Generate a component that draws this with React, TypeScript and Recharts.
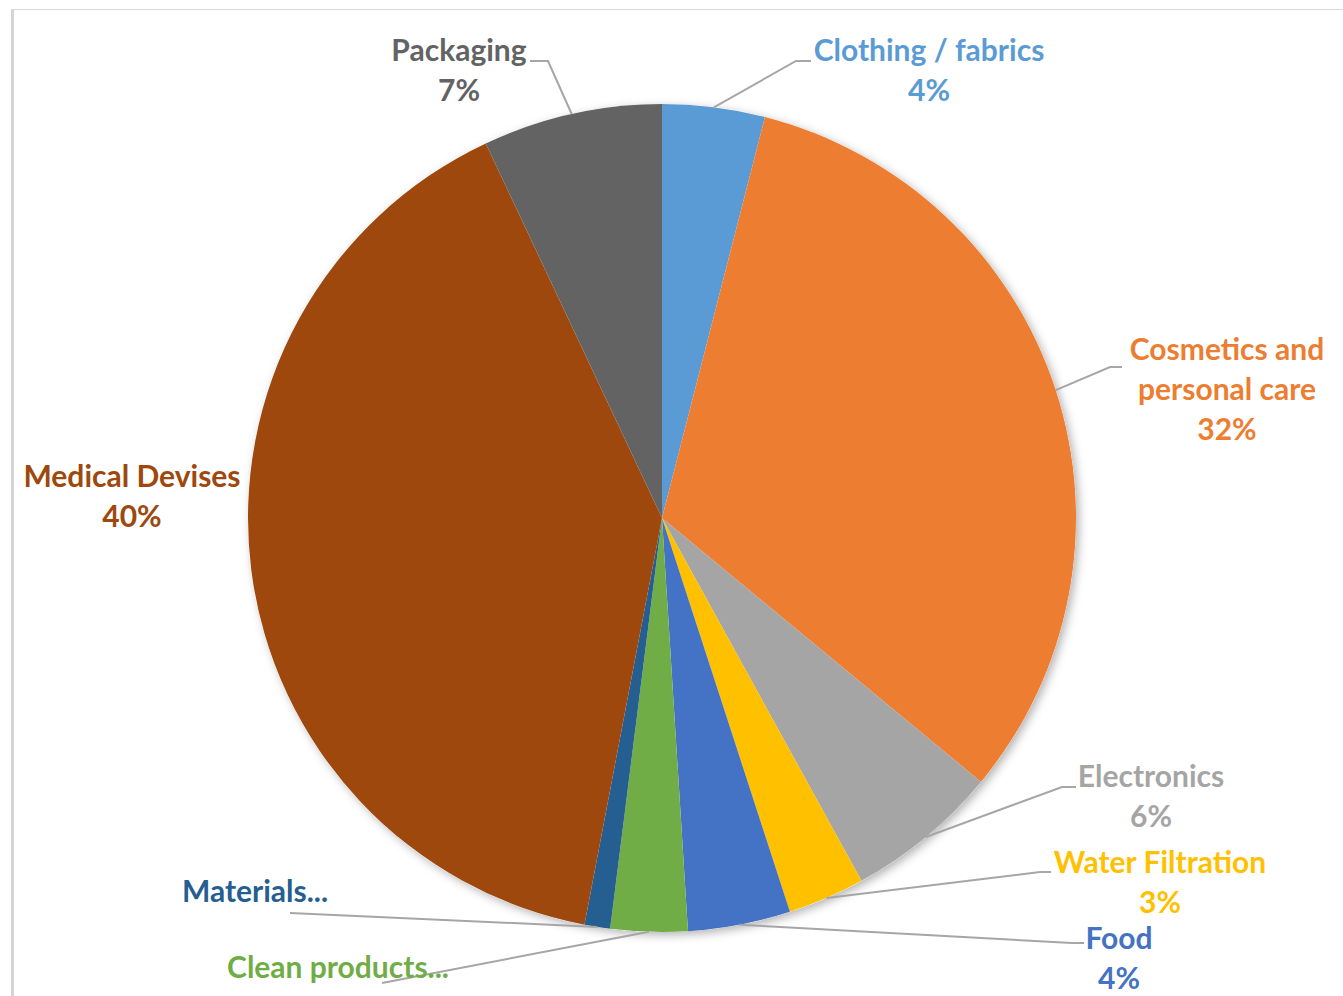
import { PieChart, Pie, Cell } from 'recharts';

const categories = [
  'Clothing / fabrics',
  'Cosmetics and personal care',
  'Electronics',
  'Water Filtration',
  'Food',
  'Clean products...',
  'Materials...',
  'Medical Devises',
  'Packaging',
];
const shares = [4, 32, 6, 3, 4, 3, 1, 40, 7];
const sliceColors = ['#5B9BD5', '#ED7D31', '#A5A5A5', '#FFC000', '#4472C4', '#70AD47', '#255E91', '#9E480E', '#636363'];
const labelText = [
  ['Clothing / fabrics'],
  ['Cosmetics and', 'personal care'],
  ['Electronics'],
  ['Water Filtration'],
  ['Food'],
  ['Clean products...'],
  ['Materials...'],
  ['Medical Devises'],
  ['Packaging'],
];
const showPercent = [true, true, true, true, true, false, false, true, true];

// where each data label sits and how its leader line bends
const labelLayout = [
  { x: 929, y: 49, leader: [[796, 61], [811, 61]] },
  { x: 1227, y: 348, leader: [[1110, 367], [1122, 367]] },
  { x: 1151, y: 775, leader: [[1062, 787], [1076, 787]] },
  { x: 1160, y: 861, leader: [[1040, 872], [1051, 872]] },
  { x: 1119, y: 937, leader: [[1072, 943], [1084, 943]] },
  { x: 338, y: 966, leader: [[382, 983]] },
  { x: 255, y: 890, leader: [[290, 913]] },
  { x: 132, y: 475, leader: [] },
  { x: 459, y: 49, leader: [[548, 61], [530, 61]] },
];

const data = categories.map((name, i) => ({ name, value: shares[i] }));
const RAD = Math.PI / 180;
const LINE_H = 40;

const renderLabel = (props: any) => {
  const { cx, cy, midAngle, outerRadius, index, percent } = props;
  const layout = labelLayout[index];
  const color = sliceColors[index];
  const lines = [...labelText[index]];
  if (showPercent[index]) lines.push(`${Math.round(percent * 100)}%`);
  const sx = cx + outerRadius * Math.cos(-midAngle * RAD);
  const sy = cy + outerRadius * Math.sin(-midAngle * RAD);
  const pts = layout.leader.length ? [[sx, sy], ...layout.leader] : [];
  return (
    <g key={`lbl-${index}`}>
      {pts.length > 0 && (
        <polyline
          points={pts.map((p) => p.join(',')).join(' ')}
          fill="none"
          stroke="#A6A6A6"
          strokeWidth={2}
        />
      )}
      <text
        x={layout.x}
        y={layout.y}
        textAnchor="middle"
        fill={color}
        style={{ fontFamily: 'Lato, sans-serif', fontWeight: 700, fontSize: 30 }}
      >
        {lines.map((t, j) => (
          <tspan key={j} x={layout.x} y={layout.y + j * LINE_H} dominantBaseline="central">
            {t}
          </tspan>
        ))}
      </text>
    </g>
  );
};

export default function App() {
  return (
    <div style={{ position: 'absolute', left: 0, top: 0, width: 1343, height: 996, background: '#fff', overflow: 'hidden' }}>
      <div
        style={{
          position: 'absolute',
          left: 11,
          top: 9,
          width: 1340,
          height: 1000,
          borderTop: '1px solid #d9d9d9',
          borderLeft: '3px solid #d4d4d4',
        }}
      />
      <div style={{ position: 'absolute', left: 0, top: 0 }}>
        <PieChart width={1343} height={996} margin={{ top: 0, right: 0, bottom: 0, left: 0 }}>
          <defs>
            <filter id="pieShadow" x="-10%" y="-10%" width="120%" height="120%">
              <feDropShadow dx={3} dy={3} stdDeviation={5} floodColor="#000" floodOpacity={0.3} />
            </filter>
          </defs>
          <Pie
            data={[{ name: 'base', value: 1 }]}
            dataKey="value"
            cx={662}
            cy={518}
            outerRadius={414}
            startAngle={90}
            endAngle={-270}
            stroke="none"
            isAnimationActive={false}
            label={false}
            labelLine={false}
          >
            <Cell fill="#ffffff" filter="url(#pieShadow)" />
          </Pie>
          <Pie
            data={data}
            dataKey="value"
            nameKey="name"
            cx={662}
            cy={518}
            outerRadius={414}
            startAngle={90}
            endAngle={-270}
            stroke="none"
            isAnimationActive={false}
            label={renderLabel}
            labelLine={false}
          >
            {data.map((entry, index) => (
              <Cell key={`cell-${index}`} fill={sliceColors[index]} />
            ))}
          </Pie>
        </PieChart>
      </div>
    </div>
  );
}
